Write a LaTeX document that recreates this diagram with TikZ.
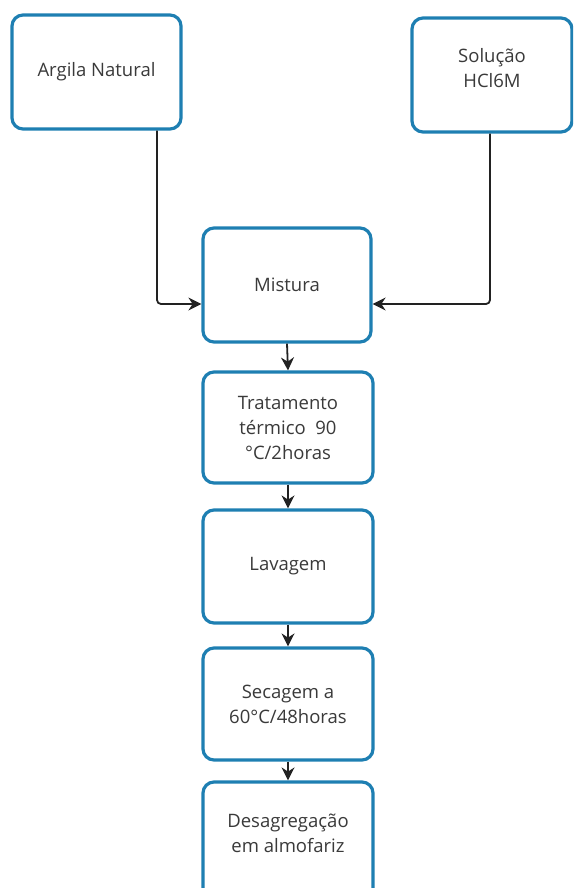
\documentclass[tikz,border=0pt]{standalone}
\usepackage{fontspec}
\setmainfont{Open Sans}
\usetikzlibrary{arrows.meta}
\definecolor{boxblue}{HTML}{1E7FB2}
\definecolor{txtgray}{HTML}{3A3A3A}
\definecolor{linegray}{HTML}{222222}
\tikzset{
  boxfont/.style={font=\fontsize{18.5}{25}\selectfont},
  stepbox/.style={draw=boxblue, line width=3.2pt, rounded corners=11pt, fill=white,
    text=txtgray, align=center, boxfont, inner sep=0pt},
  flow/.style={draw=linegray, line width=1.8pt, rounded corners=4pt,
    -{Stealth[length=13pt,width=13pt]}}
}
\begin{document}
\begin{tikzpicture}[x=1pt,y=-1pt]
\useasboundingbox (0,0) rectangle (573,888);
\clip (0,0) rectangle (573,888);
\node[stepbox, minimum width=169pt, minimum height=114pt] (argila) at (96.5,72) {Argila Natural};
\node[stepbox, minimum width=160pt, minimum height=114pt] (hcl) at (492,75) {};
\node[text=txtgray, align=center, boxfont] (hcltext) at (492,68) {Solução\\HCl6M};
\node[stepbox, minimum width=168pt, minimum height=114pt] (mistura) at (287,285) {Mistura};
\node[stepbox, minimum width=170pt, minimum height=111pt] (trat) at (288,427.5) {Tratamento\\térmico\ \ 90\\°C/2horas};
\node[stepbox, minimum width=170pt, minimum height=113pt] (lav) at (288,566.5) {Lavagem};
\node[stepbox, minimum width=170pt, minimum height=112pt] (sec) at (288,704) {Secagem a\\60°C/48horas};
\node[stepbox, minimum width=170pt, minimum height=120pt] (des) at (288,842) {};
\node[text=txtgray, align=center, boxfont] (destext) at (288,833) {Desagregação\\em almofariz};
\coordinate (c1) at (157,304);
\coordinate (c2) at (490,304);
\draw[flow] (argila.south -| c1) -- (c1) -- (c1 -| mistura.west);
\draw[flow] (hcl.south -| c2) -- (c2) -- (c2 -| mistura.east);
\draw[flow] (mistura.south) -- (trat.north);
\draw[flow] (trat.south) -- (lav.north);
\draw[flow] (lav.south) -- (sec.north);
\draw[flow] (sec.south) -- (des.north);
\end{tikzpicture}
\end{document}
